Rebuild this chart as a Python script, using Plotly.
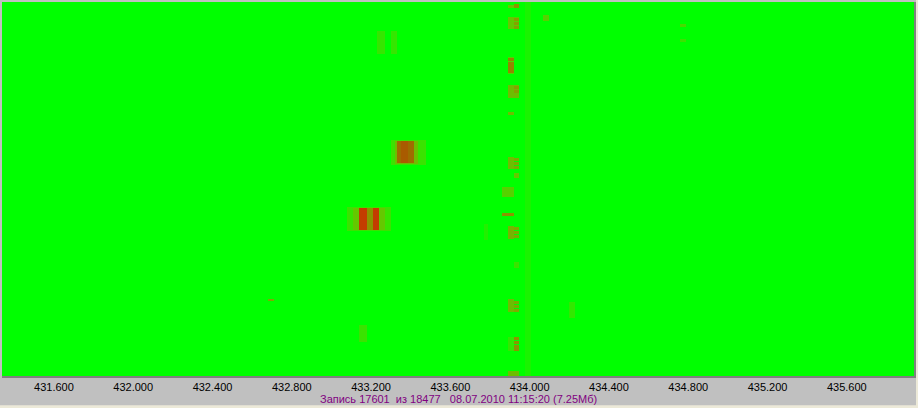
import numpy as np
import plotly.graph_objects as go

# ---- axis data ----
freq_min, freq_max = 431.338, 435.939     # MHz shown across the waterfall
bin_width = 0.01                          # MHz per frequency bin
n_rows = 375                              # waterfall lines (newest at top)
tick_vals = [431.6, 432.0, 432.4, 432.8, 433.2, 433.6, 434.0, 434.4, 434.8, 435.2, 435.6]
tick_text = ["431.600", "432.000", "432.400", "432.800", "433.200", "433.600",
             "434.000", "434.400", "434.800", "435.200", "435.600"]
caption = "Запись 17601  из 18477   08.07.2010 11:15:20 (7.25Мб)"

# ---- detected signal patches: (f start, f end, first row, last row, level 0..1) ----
sig_f0 = [433.296, 433.316, 433.326, 433.346,
          433.079, 433.109, 433.139, 433.175, 433.205,
          433.230, 433.296, 433.139, 432.675,
          433.982,
          433.886, 433.916,
          433.886, 433.916, 433.916, 433.916, 433.916,
          433.886, 433.886, 433.886, 433.886, 433.886,
          433.886, 433.916, 433.916,
          433.886,
          433.886, 433.916, 433.916, 433.916,
          433.916,
          433.856, 433.856,
          433.886, 433.916, 433.916, 433.916,
          433.765,
          433.916,
          433.886, 433.916, 433.916, 433.916,
          433.886, 433.916, 433.916, 433.916, 433.916,
          433.886,
          434.199, 434.073, 434.759, 434.759]
sig_f1 = [433.482, 433.442, 433.422, 433.386,
          433.296, 433.265, 433.175, 433.205, 433.235,
          433.265, 433.326, 433.175, 432.705,
          434.012,
          433.916, 433.951,
          433.916, 433.951, 433.951, 433.951, 433.951,
          433.916, 433.916, 433.916, 433.916, 433.916,
          433.951, 433.951, 433.951,
          433.916,
          433.916, 433.951, 433.951, 433.951,
          433.951,
          433.916, 433.916,
          433.916, 433.951, 433.951, 433.951,
          433.790,
          433.951,
          433.916, 433.951, 433.951, 433.951,
          433.916, 433.951, 433.951, 433.951, 433.951,
          433.951,
          434.229, 434.103, 434.784, 434.784]
sig_r0 = [138, 139, 139, 139,
          206, 207, 207, 207, 207,
          29, 29, 324, 298,
          0,
          3, 2,
          15, 15, 16, 20, 24,
          55, 56, 60, 64, 67,
          83, 84, 88,
          110,
          155, 156, 160, 164,
          171,
          185, 212,
          225, 226, 230, 234,
          223,
          261,
          298, 300, 304, 308,
          336, 336, 340, 344, 347,
          370,
          301, 13, 22, 37]
sig_r1 = [162, 161, 160, 160,
          229, 228, 228, 228, 228,
          51, 51, 340, 299,
          374,
          5, 5,
          26, 26, 18, 22, 26,
          71, 58, 63, 66, 70,
          95, 86, 90,
          112,
          166, 158, 162, 166,
          175,
          195, 214,
          237, 228, 232, 236,
          238,
          266,
          310, 302, 306, 310,
          349, 338, 342, 346, 349,
          374,
          316, 18, 24, 39]
sig_lvl = [0.15, 0.35, 0.7, 0.78,
           0.15, 0.3, 1.0, 0.55, 1.0,
           0.13, 0.13, 0.15, 0.45,
           0.06,
           0.3, 0.55,
           0.3, 0.25, 0.5, 0.5, 0.5,
           0.25, 0.6, 0.6, 0.6, 0.6,
           0.35, 0.5, 0.5,
           0.35,
           0.35, 0.45, 0.45, 0.45,
           0.3,
           0.25, 0.55,
           0.4, 0.45, 0.45, 0.45,
           0.08,
           0.15,
           0.35, 0.45, 0.45, 0.45,
           0.12, 0.55, 0.55, 0.55, 0.55,
           0.35,
           0.12, 0.25, 0.2, 0.15]

# ---- build waterfall grid from the patches ----
n_bins = int(round((freq_max - freq_min) / bin_width))
x_centers = freq_min + bin_width * (np.arange(n_bins) + 0.5)
rows = np.arange(n_rows)
z = np.zeros((n_rows, n_bins))
for f0, f1, r0, r1, lv in zip(sig_f0, sig_f1, sig_r0, sig_r1, sig_lvl):
    cols = (x_centers >= f0) & (x_centers < f1)
    z[r0:r1 + 1, cols] = np.maximum(z[r0:r1 + 1, cols], lv)

colorscale = [
    [0.0, "rgb(0,255,0)"],
    [0.12, "rgb(50,232,0)"],
    [0.3, "rgb(100,200,0)"],
    [0.5, "rgb(135,160,0)"],
    [0.75, "rgb(165,95,0)"],
    [1.0, "rgb(195,60,0)"],
]

fig = go.Figure(go.Heatmap(
    x=x_centers, y=rows, z=z, zmin=0, zmax=1,
    colorscale=colorscale, showscale=False, zsmooth=False, hoverinfo="skip",
))

fig.update_layout(
    width=918, height=408,
    margin=dict(l=2, r=4, t=2, b=32),
    paper_bgcolor="#c0c0c0",
    plot_bgcolor="#00ff00",
    font=dict(family="Arial, Liberation Sans, sans-serif", size=11, color="black"),
    xaxis=dict(range=[freq_min, freq_max], tickvals=tick_vals, ticktext=tick_text,
               ticks="", showgrid=False, zeroline=False,
               showline=True, linecolor="#808080", linewidth=2),
    yaxis=dict(range=[n_rows - 0.5, -0.5], showticklabels=False, ticks="",
               showgrid=False, zeroline=False, side="right",
               showline=True, linecolor="#808080", linewidth=2),
    annotations=[dict(text=caption, xref="paper", yref="paper", x=0.5, y=-0.0615,
                      xanchor="center", yanchor="middle", showarrow=False,
                      font=dict(color="#800080", size=11,
                                family="Arial, Liberation Sans, sans-serif"))],
    shapes=[
        dict(type="rect", xref="paper", yref="paper", x0=1.0022, x1=1.01, y0=-0.1, y1=1.01,
             fillcolor="#ece9d8", line=dict(width=0), layer="above"),
        dict(type="rect", xref="paper", yref="paper", x0=-0.01, x1=1.01, y0=-0.078, y1=-0.1,
             fillcolor="#ece9d8", line=dict(width=0), layer="above"),
    ],
)

fig.write_html("out.html")
